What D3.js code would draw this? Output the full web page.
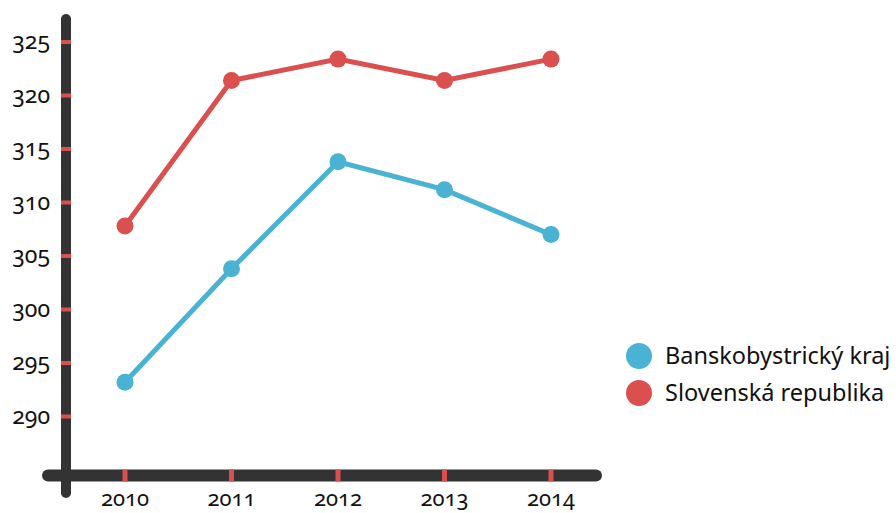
<!DOCTYPE html>
<html><head><meta charset="utf-8">
<script src="https://cdn.jsdelivr.net/npm/d3@7"></script>
<style>
body{margin:0;background:#fff;}
text{font-family:"Noto Sans","Lato",sans-serif;font-feature-settings:"onum" 1;font-variant-numeric:oldstyle-nums;fill:#111;}
</style></head>
<body><svg id="c" width="896" height="513"></svg>
<script>
const years = ["2010","2011","2012","2013","2014"];
const yTicks = [290,295,300,305,310,315,320,325];
const seriesNames = ["Banskobystrický kraj","Slovenská republika"];
const banskobystricky = [293.2, 303.8, 313.8, 311.2, 307.0];
const slovensko = [307.8, 321.4, 323.4, 321.4, 323.4];
const colors = ["#4ab3d3","#d9504e"];

const svg = d3.select("#c");
const x = d3.scalePoint().domain(years).range([125,551]);
const y = d3.scaleLinear().domain([290,325]).range([416.5,42]);
const axisColor = "#333333";
const xAxisY = 475.5, yAxisX = 66;

// axes
svg.append("line").attr("x1",yAxisX).attr("x2",yAxisX).attr("y1",19).attr("y2",493)
  .attr("stroke",axisColor).attr("stroke-width",10).attr("stroke-linecap","round");
svg.append("line").attr("x1",48).attr("x2",596).attr("y1",xAxisY).attr("y2",xAxisY)
  .attr("stroke",axisColor).attr("stroke-width",12).attr("stroke-linecap","round");

// y ticks
svg.selectAll(".yt").data(yTicks).enter().append("rect")
  .attr("x",yAxisX-5).attr("y",d=>y(d)-2).attr("width",10).attr("height",4).attr("fill","#d9504e");
svg.selectAll(".yl").data(yTicks).enter().append("text")
  .attr("x",50).attr("y",d=>y(d)+7).attr("text-anchor","end").attr("font-size",23).text(d=>d);

// x ticks
svg.selectAll(".xt").data(years).enter().append("rect")
  .attr("x",d=>x(d)-2.5).attr("y",xAxisY-6).attr("width",5).attr("height",12).attr("fill","#d9504e");
svg.selectAll(".xl").data(years).enter().append("text")
  .attr("x",d=>x(d)).attr("y",506).attr("text-anchor","middle").attr("font-size",22).text(d=>d);

const series = [banskobystricky, slovensko];
const line = d3.line().x((d,i)=>x(years[i])).y(d=>y(d));
series.forEach((s,k)=>{
  svg.append("path").attr("d",line(s)).attr("fill","none").attr("stroke",colors[k]).attr("stroke-width",5);
  svg.selectAll(".p"+k).data(s).enter().append("circle")
    .attr("cx",(d,i)=>x(years[i])).attr("cy",d=>y(d)).attr("r",8.5).attr("fill",colors[k]);
});

// legend
seriesNames.forEach((n,k)=>{
  const cy = 356 + k*37;
  svg.append("circle").attr("cx",639).attr("cy",cy).attr("r",13).attr("fill",colors[k]);
  svg.append("text").attr("x",665).attr("y",cy+8).attr("font-size",23.5).text(n);
});
</script></body></html>
